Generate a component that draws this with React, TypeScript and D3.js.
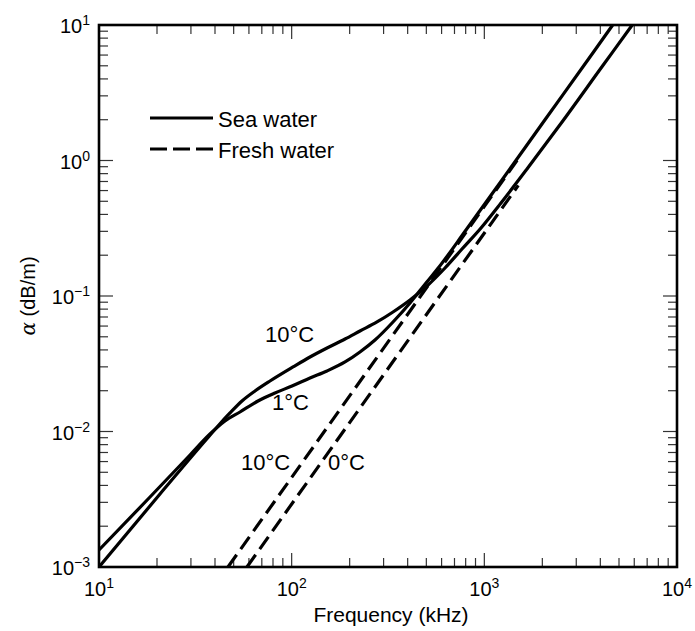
import React from "react";
import * as d3 from "d3";

const W = 695;
const H = 631;
const PL = 99, PR = 677, PT = 25, PB = 567;

// axis ticks
const xMajor = [10, 100, 1000, 10000];
const xExp = ["1", "2", "3", "4"];
const yMajor = [1e-3, 1e-2, 1e-1, 1, 10];
const yExp = ["−3", "−2", "−1", "0", "1"];

// Sea water, 1°C (kHz, dB/m)
const freqSea1 = [10, 18.4, 29.67, 37.68, 45.08, 53.93, 66.88, 81.95, 100.4, 124.5, 152.6, 189.2, 226.2, 270.7, 335.7, 411.4, 498.1, 581.9, 803.2, 1235, 2060, 3444, 4598, 5703];
const alphaSea1 = [0.001335, 0.003285, 0.006709, 0.009584, 0.01195, 0.01393, 0.0168, 0.01924, 0.02167, 0.02482, 0.02796, 0.03258, 0.03862, 0.04734, 0.0643, 0.08879, 0.1248, 0.1637, 0.307, 0.7178, 1.99, 5.516, 9.832, 15.29];

// Sea water, 10°C
const freqSea10 = [10, 20.73, 35.49, 41.46, 47.85, 55.23, 64.51, 77.19, 101.6, 124.5, 152.6, 189.2, 226.2, 277.3, 335.7, 411.4, 504.1, 625.1, 765.7, 960.9, 1220, 1665, 2531, 4105, 5806, 7242];
const alphaSea10 = [0.001, 0.003458, 0.00851, 0.01098, 0.0137, 0.0168, 0.01991, 0.02359, 0.02993, 0.03546, 0.04133, 0.04815, 0.05516, 0.0643, 0.0762, 0.09343, 0.1186, 0.161, 0.2222, 0.3176, 0.4857, 0.8655, 1.924, 4.983, 9.832, 15.29];

// Fresh water (left and right dashed lines)
const freqFreshL = [46.7, 1500];
const alphaFreshL = [0.001, 1.03];
const freqFreshR = [58.6, 1500];
const alphaFreshR = [0.001, 0.655];

const FONT = "'Liberation Sans', Arial, Helvetica, sans-serif";

function zip(a: number[], b: number[]): [number, number][] {
  return a.map((v, i) => [v, b[i]]);
}

export default function App() {
  const x = d3.scaleLog().domain([10, 1e4]).range([PL, PR]);
  const y = d3.scaleLog().domain([1e-3, 10]).range([PB, PT]);
  const line = d3
    .line<[number, number]>()
    .x((d) => x(d[0]))
    .y((d) => y(d[1]))
    .curve(d3.curveMonotoneX);

  const xMinor: number[] = [];
  [10, 100, 1000].forEach((d) => {
    for (let k = 2; k <= 9; k++) xMinor.push(d * k);
  });
  const yMinor: number[] = [];
  [1e-3, 1e-2, 1e-1, 1].forEach((d) => {
    for (let k = 2; k <= 9; k++) yMinor.push(d * k);
  });

  const majL = 14;
  const minL = 9;
  const tickStroke = "#333";

  return (
    <svg
      width={W}
      height={H}
      style={{ position: "absolute", left: 0, top: 0, background: "#fff" }}
      fontFamily={FONT}
    >
      <defs>
        <clipPath id="plotclip">
          <rect x={PL} y={PT} width={PR - PL} height={PB - PT} />
        </clipPath>
      </defs>
      <rect x={0} y={0} width={W} height={H} fill="#fff" />

      {/* ticks */}
      <g stroke={tickStroke} strokeWidth={1.2}>
        {xMinor.map((v, i) => (
          <g key={"xm" + i}>
            <line x1={x(v)} x2={x(v)} y1={PB} y2={PB - minL} />
            <line x1={x(v)} x2={x(v)} y1={PT} y2={PT + minL} />
          </g>
        ))}
        {xMajor.map((v, i) => (
          <g key={"xM" + i}>
            <line x1={x(v)} x2={x(v)} y1={PB} y2={PB - majL} />
            <line x1={x(v)} x2={x(v)} y1={PT} y2={PT + majL} />
          </g>
        ))}
        {yMinor.map((v, i) => (
          <g key={"ym" + i}>
            <line x1={PL} x2={PL + minL} y1={y(v)} y2={y(v)} />
            <line x1={PR} x2={PR - minL} y1={y(v)} y2={y(v)} />
          </g>
        ))}
        {yMajor.map((v, i) => (
          <g key={"yM" + i}>
            <line x1={PL} x2={PL + majL} y1={y(v)} y2={y(v)} />
            <line x1={PR} x2={PR - majL} y1={y(v)} y2={y(v)} />
          </g>
        ))}
      </g>

      {/* curves */}
      <g clipPath="url(#plotclip)" fill="none" stroke="#000" strokeWidth={3.2}>
        <path d={line(zip(freqFreshL, alphaFreshL)) || ""} strokeDasharray="15,7" />
        <path d={line(zip(freqFreshR, alphaFreshR)) || ""} strokeDasharray="15,7" />
        <path d={line(zip(freqSea1, alphaSea1)) || ""} />
        <path d={line(zip(freqSea10, alphaSea10)) || ""} />
      </g>

      {/* frame */}
      <rect x={PL} y={PT} width={PR - PL} height={PB - PT} fill="none" stroke="#000" strokeWidth={2.6} />

      {/* tick labels */}
      <g fontSize={20} fill="#000">
        {xMajor.map((v, i) => (
          <text key={"xl" + i} x={x(v)} y={PB + 29} textAnchor="middle">
            10
            <tspan fontSize={14} dy={-8}>{xExp[i]}</tspan>
          </text>
        ))}
        {yMajor.map((v, i) => (
          <text key={"yl" + i} x={PL - 9} y={y(v) + 8} textAnchor="end">
            10
            <tspan fontSize={14} dy={-8}>{yExp[i]}</tspan>
          </text>
        ))}
      </g>

      {/* axis titles */}
      <text x={391} y={622} textAnchor="middle" fontSize={21}>
        Frequency (kHz)
      </text>
      <text transform={`translate(35, ${(PT + PB) / 2}) rotate(-90)`} textAnchor="middle" fontSize={20}>
        <tspan fontFamily="'DejaVu Serif', serif" fontStyle="italic">α</tspan> (dB/m)
      </text>

      {/* legend */}
      <line x1={150} x2={213} y1={118} y2={118} stroke="#000" strokeWidth={3.2} />
      <text x={218} y={127} fontSize={22}>Sea water</text>
      <line x1={150} x2={213} y1={149} y2={149} stroke="#000" strokeWidth={3.2} strokeDasharray="17,6" />
      <text x={218} y={158} fontSize={22}>Fresh water</text>

      {/* curve labels */}
      <g fontSize={22}>
        <text x={265} y={342}>10°C</text>
        <text x={272} y={410}>1°C</text>
        <text x={241} y={470}>10°C</text>
        <text x={328} y={470}>0°C</text>
      </g>
    </svg>
  );
}
